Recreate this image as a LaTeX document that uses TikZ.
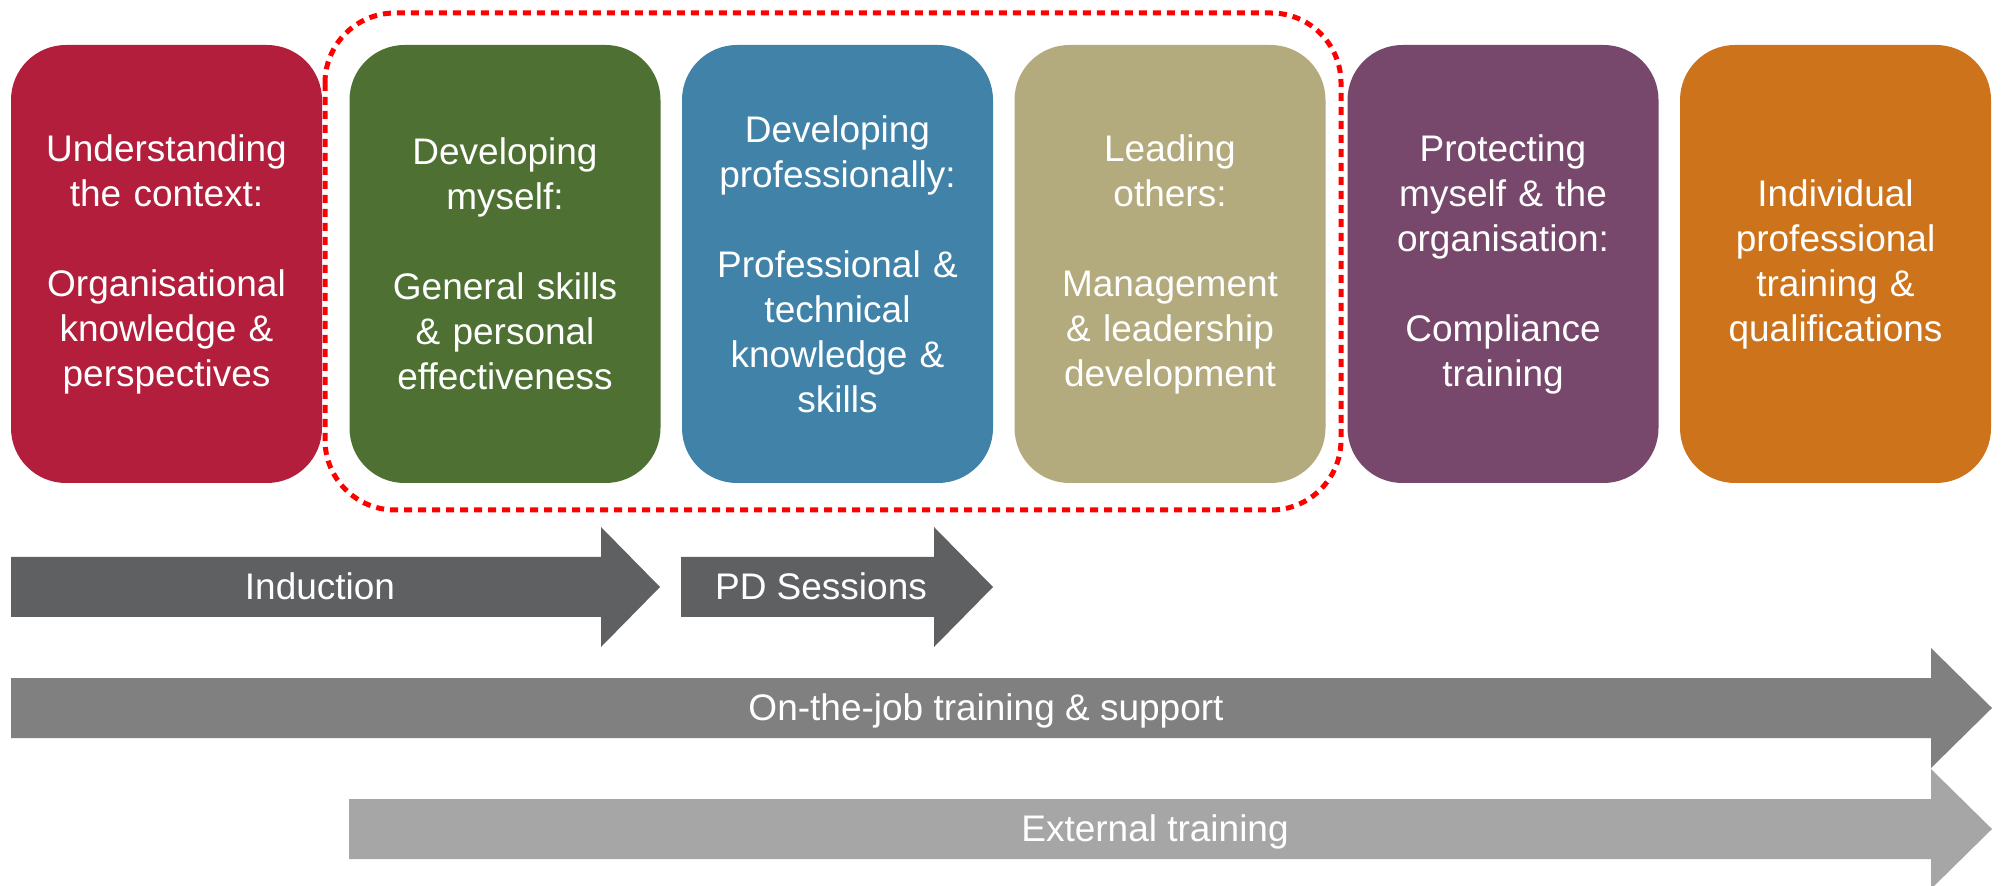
\documentclass[tikz,border=0pt]{standalone}
\usepackage{fontspec}
\setmainfont{Liberation Sans}
\definecolor{cRed}{HTML}{B21E3B}
\definecolor{cGreen}{HTML}{4E7133}
\definecolor{cBlue}{HTML}{4183A8}
\definecolor{cKhaki}{HTML}{B3AA7D}
\definecolor{cPurple}{HTML}{77486B}
\definecolor{cOrange}{HTML}{CC731C}
\definecolor{aDark}{HTML}{5F6062}
\definecolor{aMid}{HTML}{808080}
\definecolor{aLight}{HTML}{A6A6A6}
\definecolor{frameRed}{HTML}{FF0000}
\begin{document}
\begin{tikzpicture}[x=0.5pt,y=-0.5pt,
  box/.style={rounded corners=27.5pt, minimum width=155.5pt, minimum height=219pt,
    inner sep=0pt, text width=150pt, align=center, text=white,
    font=\fontsize{18.5}{22.5}\selectfont},
  arrlabel/.style={anchor=base, text=white, inner sep=0pt, font=\fontsize{18.5}{22.5}\selectfont},
  dashframe/.style={draw=frameRed, line width=2.5pt, dash pattern=on 4pt off 3pt, rounded corners=35pt}
]
\useasboundingbox (0,0) rectangle (2001,886);
\clip (0,0) rectangle (2001,886);

\node[box, fill=cRed] (b1) at (166.5,264) {Understanding\\the context:\\[22.5pt]Organisational\\knowledge \&\\perspectives};
\node[box, fill=cGreen] (b2) at (505,264) {Developing\\myself:\\[22.5pt]General skills\\\& personal\\effectiveness};
\node[box, fill=cBlue] (b3) at (837.5,264) {Developing\\professionally:\\[22.5pt]Professional \&\\technical\\knowledge \&\\skills};
\node[box, fill=cKhaki] (b4) at (1170,264) {Leading\\others:\\[22.5pt]Management\\\& leadership\\development};
\node[box, fill=cPurple] (b5) at (1503,264) {Protecting\\myself \& the\\organisation:\\[22.5pt]Compliance\\training};
\node[box, fill=cOrange] (b6) at (1835.5,264) {Individual\\professional\\training \&\\qualifications};

\draw[dashframe] (325,13) rectangle (1341,510);

% Induction arrow
\fill[aDark] (11,557) -- (601,557) -- (601,527) -- (660,587) -- (601,647) -- (601,617) -- (11,617) -- cycle;
\node[arrlabel] (lInd) at (320,600) {Induction};
% PD Sessions arrow
\fill[aDark] (681,557) -- (934,557) -- (934,527) -- (993,587) -- (934,647) -- (934,617) -- (681,617) -- cycle;
\node[arrlabel] (lPD) at (821,600) {PD Sessions};
% On-the-job arrow
\fill[aMid] (11,678) -- (1931,678) -- (1931,648) -- (1992,708) -- (1931,768) -- (1931,738) -- (11,738) -- cycle;
\node[arrlabel] (lOJ) at (986,720) {On-the-job training \& support};
% External arrow
\fill[aLight] (349,799) -- (1931,799) -- (1931,769) -- (1992,829) -- (1931,889) -- (1931,859) -- (349,859) -- cycle;
\node[arrlabel] (lExt) at (1155,841) {External training};
\end{tikzpicture}
\end{document}
